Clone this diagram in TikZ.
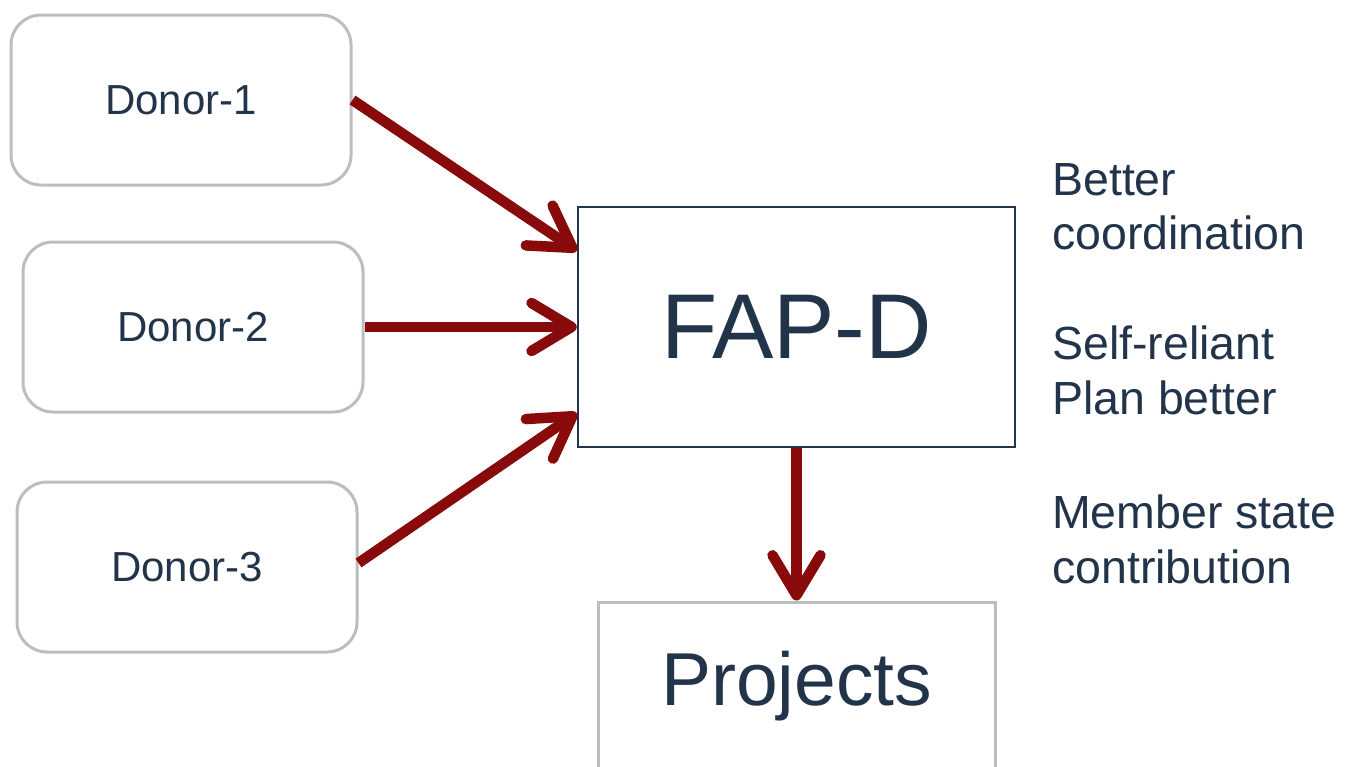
\documentclass[tikz,border=0pt]{standalone}
\usepackage{fontspec}
\setmainfont{Liberation Sans}
\usetikzlibrary{arrows.meta,positioning,calc}

\definecolor{inkblue}{HTML}{22344A}
\definecolor{boxgray}{HTML}{BDBDBD}
\definecolor{flowred}{HTML}{880A0A}

\tikzset{
  donorbox/.style={draw=boxgray, line width=3pt, rounded corners=30pt,
    minimum width=340pt, minimum height=170pt, inner sep=0pt,
    text=inkblue, font=\fontsize{42}{50}\selectfont},
  hubbox/.style={draw=inkblue, line width=2.5pt, minimum width=437pt,
    minimum height=240pt, inner sep=0pt, text=inkblue,
    font=\fontsize{92}{100}\selectfont},
  outbox/.style={draw=boxgray, line width=3pt, minimum width=397pt,
    minimum height=168pt, inner sep=0pt, text=inkblue,
    font=\fontsize{75}{85}\selectfont},
  notetext/.style={anchor=base west, inner sep=0pt, text=inkblue,
    font=\fontsize{46.5}{54}\selectfont},
  flow/.style={draw=flowred, line width=10.5pt,
    -{Straight Barb[length=40pt,width=48pt,round]}}
}

\begin{document}
\begin{tikzpicture}[x=1pt,y=-1pt]
  \useasboundingbox (0,0) rectangle (1357,766);
  \clip (0,0) rectangle (1357,766);

  % donors
  \node[donorbox] (d1) at (181,100) {Donor-1};
  \node[donorbox] (d2) at (193,327) {Donor-2};
  \node[donorbox] (d3) at (187,567) {Donor-3};

  % central facility and projects
  \node[hubbox] (fap) at (796.5,327) {FAP-D};
  \node[outbox] (proj) at (796.5,686) {Projects};

  % benefits listed on the right
  \node[notetext] (b1) at (1052,195) {Better};
  \node[notetext] (b2) at (1052,249) {coordination};
  \node[notetext] (b3) at (1052,359) {Self-reliant};
  \node[notetext] (b4) at (1052,414) {Plan better};
  \node[notetext] (b5) at (1052,528) {Member state};
  \node[notetext] (b6) at (1052,583) {contribution};

  % flows
  \draw[flow] (d1.east) -- ([yshift=-45pt]fap.north west);
  \draw[flow] (d2.east) -- (fap.west);
  \draw[flow] ([yshift=4pt]d3.east) -- ([yshift=35pt]fap.south west);
  \draw[flow] (fap.south) -- (proj.north);
\end{tikzpicture}
\end{document}
